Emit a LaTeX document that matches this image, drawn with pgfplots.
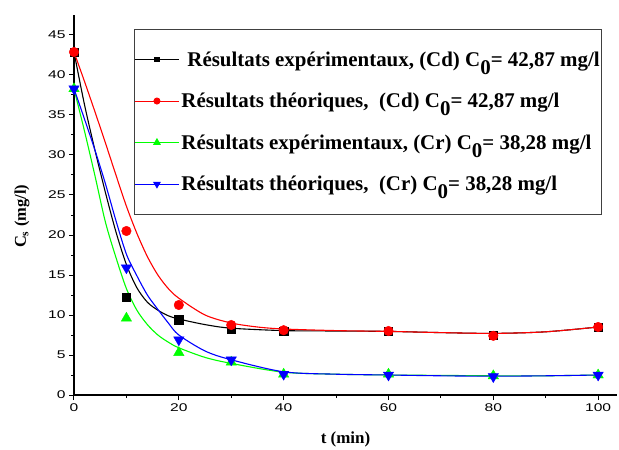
\documentclass[border=0pt]{standalone}
\usepackage{fontspec}
\setmainfont{Liberation Serif}
\newfontfamily\tickfont[FakeStretch=1.4]{Liberation Sans}
\usepackage{pgfplots}
\pgfplotsset{compat=1.18}

\definecolor{cdred}{RGB}{255,0,0}
\definecolor{crgreen}{RGB}{0,255,0}
\definecolor{crblue}{RGB}{0,0,255}

\newcommand{\Czero}{C\raisebox{-0.4em}{0}}

\begin{document}
\begin{tikzpicture}
\begin{axis}[
    at={(0,0)}, anchor=south west,
    scale only axis, width=543bp, height=380bp,
    xmin=0, xmax=103.6, ymin=0, ymax=47.5,
    axis x line*=bottom, axis y line*=left,
    axis line style={line width=1.1bp, -},
    xtick={0,20,...,100}, ytick={0,5,...,45},
    minor x tick num=1, minor y tick num=1,
    tick align=outside,
    major tick length=5bp, minor tick length=3bp,
    tick style={line width=1bp, black},
    /pgf/number format/assume math mode=true,
    tick label style={font=\tickfont\fontsize{11.2}{13}\selectfont},
    xlabel={\textbf{t (min)}},
    ylabel={\textbf{C\textsubscript{s} (mg/l)}},
    xlabel style={font=\fontsize{17}{19}\selectfont, at={(axis description cs:0.5,0)}, anchor=north, yshift=-33bp},
    ylabel style={font=\fontsize{16.5}{19}\selectfont, at={(axis description cs:-0.0958,0.47)}, anchor=center},
    legend cell align=left,
    legend image code/.code={
        \draw[mark repeat=2, mark phase=2, #1] plot coordinates {(0bp,0bp) (22bp,0bp) (44bp,0bp)};
    },
    legend style={at={(0.1105,0.963)}, anchor=north west, draw=black!75, line width=0.9bp,
        fill=white, font=\bfseries\fontsize{21}{23}\selectfont,
        inner xsep=0bp, inner ysep=20bp, row sep=21.5bp},
]

% legend images
\addlegendimage{black, line width=1bp, mark=square*, mark size=2.4bp}
\addlegendentry{\hspace{6bp}Résultats expérimentaux, (Cd) \Czero= 42,87 mg/l}
\addlegendimage{cdred, line width=1bp, mark=*, mark size=3bp}
\addlegendentry{Résultats théoriques,~~(Cd) \Czero= 42,87 mg/l}
\addlegendimage{crgreen, line width=1bp, mark=triangle*, mark size=3.6bp}
\addlegendentry{Résultats expérimentaux, (Cr) \Czero= 38,28 mg/l}
\addlegendimage{crblue, line width=1bp, mark=triangle*, mark size=3.6bp, mark options={rotate=180}}
\addlegendentry{Résultats théoriques,~~(Cr) \Czero= 38,28 mg/l}

% fitted curves
\addplot[black, line width=1.1bp, smooth, forget plot] coordinates {
(0,42.87) (2,36.3) (4,30.6) (6,25.3) (8,20.4) (10,16.3) (12,13.4) (14,11.6) (16,10.6)
(18,9.9) (20,9.5) (25,8.8) (30,8.35) (40,8.05) (50,8.0) (60,7.95) (70,7.8) (80,7.7) (90,7.9) (100,8.5)};
\addplot[cdred, line width=1.1bp, smooth, forget plot] coordinates {
(0,42.87) (2,39.2) (4,35.4) (6,31.5) (8,27.5) (10,23.6) (12,20.2) (14,17.3) (16,15.0)
(18,13.3) (20,12.1) (25,10.0) (30,9.0) (35,8.5) (40,8.25) (50,8.05) (60,7.95) (70,7.8) (80,7.7) (90,7.9) (100,8.5)};
\addplot[crgreen, line width=1.1bp, smooth, forget plot] coordinates {
(0,38.28) (2,33.0) (4,27.4) (6,21.6) (8,17.2) (10,13.3) (12,10.6) (14,8.8) (16,7.5)
(18,6.6) (20,5.9) (25,4.7) (30,3.95) (40,2.85) (50,2.6) (60,2.5) (70,2.45) (80,2.4) (90,2.4) (100,2.5)};
\addplot[crblue, line width=1.1bp, smooth, forget plot] coordinates {
(0,38.28) (2,34.5) (4,30.6) (6,26.4) (8,21.8) (10,17.6) (12,14.9) (14,12.5) (16,10.7)
(18,9.0) (20,7.5) (25,5.5) (30,4.4) (40,2.9) (50,2.6) (60,2.5) (70,2.4) (80,2.35) (90,2.4) (100,2.5)};

% measured / computed points
\addplot[only marks, mark=square*, mark size=4.2bp, black, forget plot] coordinates {
(0,42.87) (10,12.2) (20,9.4) (30,8.2) (40,8.0) (60,8.0) (80,7.5) (100,8.5)};
\addplot[only marks, mark=*, mark size=4.8bp, cdred, forget plot] coordinates {
(0,42.87) (10,20.5) (20,11.25) (30,8.75) (40,8.1) (60,8.0) (80,7.4) (100,8.5)};
\addplot[only marks, mark=triangle*, mark size=6bp, crgreen, forget plot] coordinates {
(0,38.28) (10,9.6) (20,5.3) (30,4.1) (40,2.6) (60,2.6) (80,2.4) (100,2.5)};
\addplot[only marks, mark=triangle*, mark size=6bp, mark options={rotate=180}, crblue, forget plot] coordinates {
(0,38.28) (10,15.9) (20,6.9) (30,4.4) (40,2.6) (60,2.5) (80,2.3) (100,2.5)};

\end{axis}
\pgfresetboundingbox
\useasboundingbox (-74bp,-55bp) rectangle (545bp,395bp);
\end{tikzpicture}
\end{document}
